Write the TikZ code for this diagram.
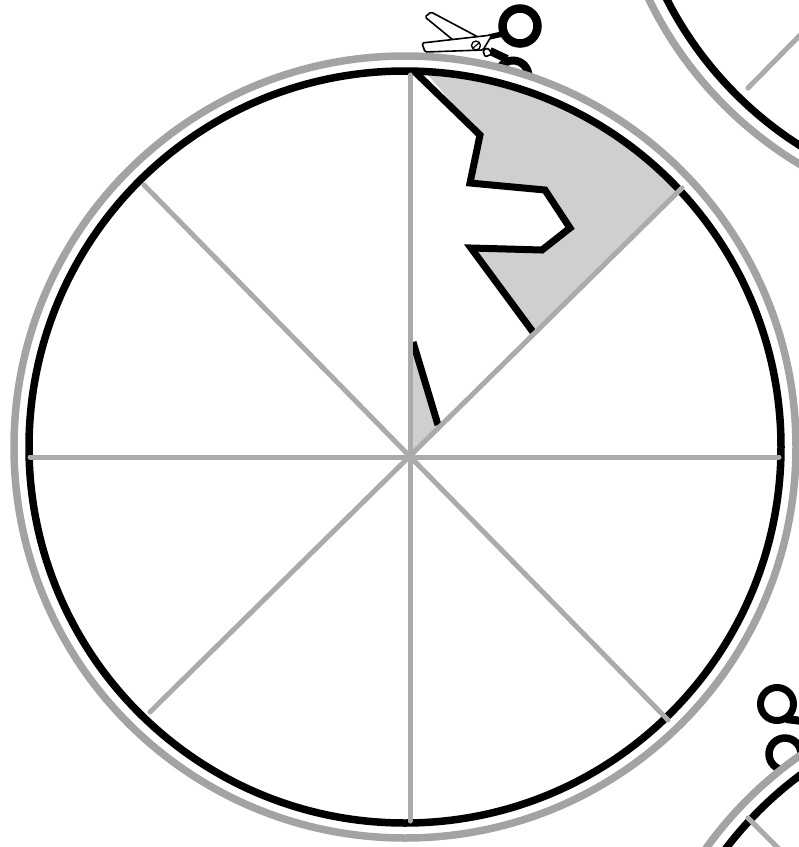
\documentclass[tikz,border=0pt]{standalone}
\usepackage{xcolor}
\definecolor{rimgrey}{HTML}{A3A3A3}
\definecolor{spokegrey}{HTML}{ABABAB}
\definecolor{cutgrey}{HTML}{CFCFCF}

\begin{document}
\begin{tikzpicture}[
  x=1pt, y=-1pt,
  rim/.style={draw=rimgrey, line width=7.5pt, fill=white},
  hoop/.style={draw=black, line width=7.5pt},
  spoke/.style={draw=spokegrey, line width=5pt, line cap=round},
  cutline/.style={draw=black, line width=7pt, miter limit=6},
  blade/.style={draw=black, line width=1.6pt, fill=white, rounded corners=1.5pt},
  handle/.style={draw=black, line width=8pt},
]
  \clip (0,0) rectangle (799,847);
  \fill[white] (0,0) rectangle (799,847);

  \coordinate (wheel) at (405,447);
  \coordinate (upperwheel) at (1001,-171);
  \coordinate (lowerwheel) at (1024,1076);

  % scissors on the top edge
  \draw[handle] (490,51) -- (507,59);
  \draw[handle] (513,76) circle[radius=15.5];
  \draw[handle, line width=5.5pt] (489,37) -- (507,33);
  \draw[handle, line width=8.5pt] (520,26) circle[radius=17.5];
  \draw[blade] (431,12) -- (425,17) -- (453,40) -- (478,37) -- cycle;
  \draw[blade] (422,43) -- (492,35) -- (483,50) -- (425,52) -- cycle;
  \draw[blade] (483,50) -- (488,48) -- (492,54) -- (485,57) -- cycle;
  \draw[line width=1.3pt] (476,45.5) circle[radius=4.5];
  \draw[line width=1.1pt] (473,48) -- (479,43);

  % scissors at the lower right
  \draw[handle, line width=7pt] (777,704) circle[radius=16.5];
  \draw[handle] (786,719) -- (810,722);
  \draw[handle, line width=7.5pt] (785,754) circle[radius=16];

  % neighbouring wheels
  \draw[rim] (upperwheel) circle[radius=391];
  \draw[hoop] (upperwheel) circle[radius=375];
  \draw[spoke] (748,88) -- (815,20);
  \draw[rim] (lowerwheel) circle[radius=391];
  \draw[hoop] (lowerwheel) circle[radius=375];
  \draw[spoke] (748,818) -- (790,860);

  % main wheel
  \draw[rim] (wheel) circle[radius=391];
  \begin{scope}
    \clip (wheel) circle[radius=376];
    \fill[cutgrey] (415,60) -- (700,60) -- (700,170) -- (682,188) -- (533,332)
      -- (471,248) -- (542,250) -- (570,228) -- (545,190) -- (470,183) -- (480,135) -- cycle;
    \fill[cutgrey] (412,342) -- (438,425) -- (411,455) -- cycle;
  \end{scope}
  \draw[hoop] (wheel) circle[radius=376];
  \draw[cutline] (415,72) -- (480,135) -- (470,183) -- (545,190) -- (570,228)
    -- (542,250) -- (471,248) -- (533,332);
  \draw[cutline] (413,342) -- (438,425);

  \draw[spoke] (410,75) -- (410,821);
  \draw[spoke] (30,457) -- (779,457);
  \draw[spoke] (144,185) -- (668,720);
  \draw[spoke] (150,712) -- (682,188);
\end{tikzpicture}
\end{document}
